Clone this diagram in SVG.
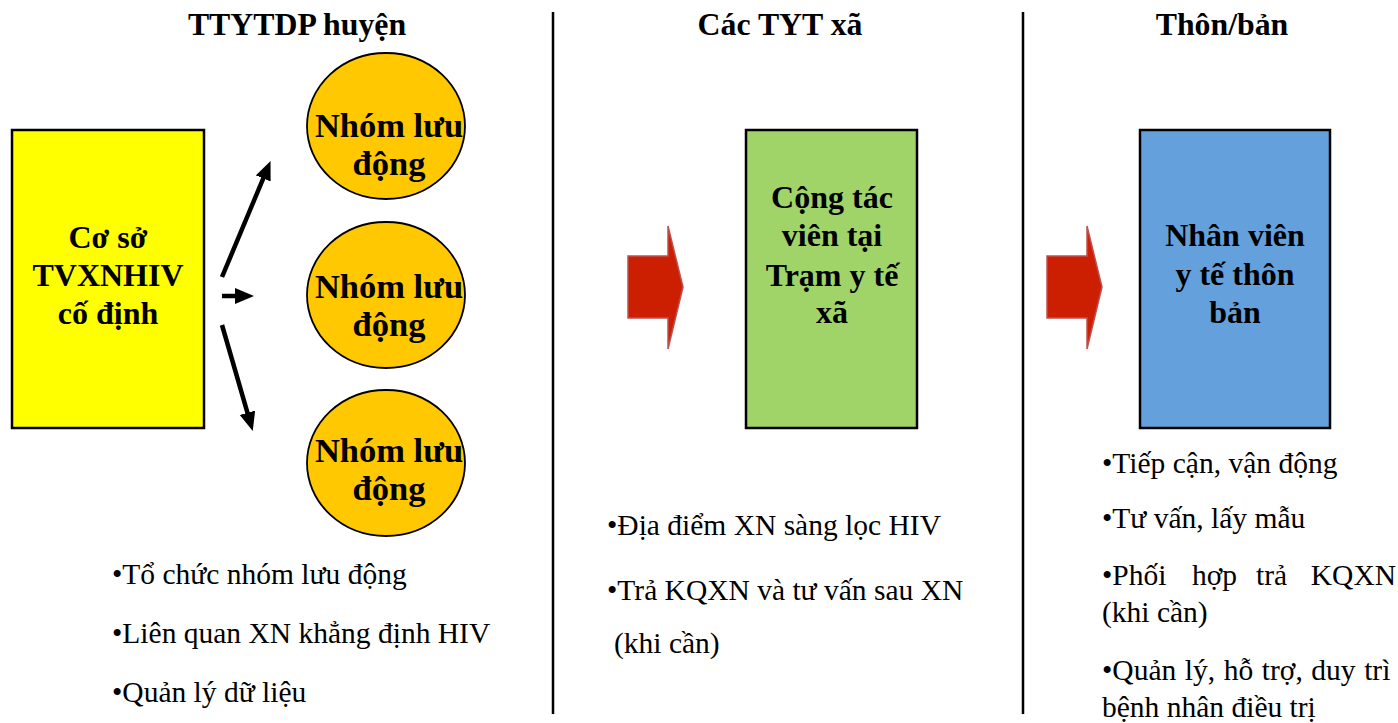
<svg xmlns="http://www.w3.org/2000/svg" width="1398" height="723" viewBox="0 0 1398 723">
<style>
.title{font-family:"Liberation Serif","Times New Roman",serif;font-weight:bold;font-size:31.8px;fill:#000;text-anchor:middle}
.box{font-family:"Liberation Serif","Times New Roman",serif;font-weight:bold;font-size:32px;fill:#000;text-anchor:middle}
.circ{font-family:"Liberation Serif","Times New Roman",serif;font-weight:bold;font-size:34.5px;fill:#000;text-anchor:middle}
.bul{font-family:"Liberation Serif","Times New Roman",serif;font-size:29.5px;fill:#000}
.div{stroke:#000;stroke-width:2.5}
.rect{stroke:#000;stroke-width:2.5}
.ell{fill:#FFC800;stroke:#000;stroke-width:1.8}
.red{fill:#CC1E00;stroke:#C0504D;stroke-width:1.5}
.conn{stroke:#000;stroke-width:4.5;fill:none}
</style>
<defs>
<marker id="ah" markerUnits="userSpaceOnUse" markerWidth="22" markerHeight="18" refX="2" refY="8" orient="auto">
<path d="M0,0 L19,8 L0,16 z" fill="#000"/>
</marker>
</defs>
<rect width="1398" height="723" fill="#fff"/>
<g id="dividers">
<line class="div" x1="553" y1="12" x2="553" y2="714"/>
<line class="div" x1="1023" y1="12" x2="1023" y2="714"/>
</g>
<g id="titles">
<text class="title" x="297" y="35">TTYTDP huyện</text>
<text class="title" x="780" y="35">Các TYT xã</text>
<text class="title" x="1222" y="35">Thôn/bản</text>
</g>
<g id="co-so">
<rect class="rect" x="12" y="130" width="192" height="298" fill="#FFFF00"/>
<text class="box" x="108" y="248">Cơ sở</text>
<text class="box" x="108" y="286">TVXNHIV</text>
<text class="box" x="108" y="324">cố định</text>
</g>
<g id="nhom1">
<ellipse class="ell" cx="386" cy="126" rx="79" ry="73"/>
<text class="circ" x="389" y="137">Nhóm lưu</text>
<text class="circ" x="389" y="175">động</text>
</g>
<g id="nhom2">
<ellipse class="ell" cx="386" cy="295" rx="79" ry="73"/>
<text class="circ" x="389" y="298">Nhóm lưu</text>
<text class="circ" x="389" y="336">động</text>
</g>
<g id="nhom3">
<ellipse class="ell" cx="386" cy="463" rx="79" ry="73"/>
<text class="circ" x="389" y="462">Nhóm lưu</text>
<text class="circ" x="389" y="500">động</text>
</g>
<g id="connectors">
<line class="conn" x1="222" y1="277" x2="264" y2="176.6" marker-end="url(#ah)"/>
<line class="conn" x1="222" y1="296" x2="237" y2="296" marker-end="url(#ah)"/>
<line class="conn" x1="222" y1="325" x2="248" y2="414.7" marker-end="url(#ah)"/>
<polygon class="red" points="628,256 668,256 668,226 683,287 668,349 668,318 628,318"/>
<polygon class="red" points="1047,256 1087,256 1087,226 1102,287 1087,349 1087,318 1047,318"/>
</g>
<g id="tyt-xa">
<rect class="rect" x="746" y="130" width="171" height="298" fill="#A0D468"/>
<text class="box" x="832" y="208">Cộng tác</text>
<text class="box" x="832" y="246">viên tại</text>
<text class="box" x="832" y="286">Trạm y tế</text>
<text class="box" x="832" y="323">xã</text>
</g>
<g id="nhan-vien">
<rect class="rect" x="1140" y="130" width="190" height="298" fill="#64A0DC"/>
<text class="box" x="1235" y="246">Nhân viên</text>
<text class="box" x="1235" y="285">y tế thôn</text>
<text class="box" x="1235" y="323">bản</text>
</g>
<g id="bullets-left">
<text class="bul" x="112" y="584">•Tổ chức nhóm lưu động</text>
<text class="bul" x="112" y="643">•Liên quan XN khẳng định HIV</text>
<text class="bul" x="112" y="702">•Quản lý dữ liệu</text>
</g>
<g id="bullets-mid">
<text class="bul" x="607" y="535">•Địa điểm XN sàng lọc HIV</text>
<text class="bul" x="607" y="600">•Trả KQXN và tư vấn sau XN</text>
<text class="bul" x="614" y="653">(khi cần)</text>
</g>
<g id="bullets-right">
<text class="bul" x="1102" y="473">•Tiếp cận, vận động</text>
<text class="bul" x="1102" y="528">•Tư vấn, lấy mẫu</text>
<text class="bul" y="585"><tspan x="1102">•Phối</tspan><tspan x="1192">hợp</tspan><tspan x="1256">trả</tspan></text>
<text class="bul" x="1396" y="585" text-anchor="end">KQXN</text>
<text class="bul" x="1102" y="622">(khi cần)</text>
<text class="bul" x="1102" y="680" word-spacing="1.2">•Quản lý, hỗ trợ, duy trì</text>
<text class="bul" x="1102" y="717">bệnh nhân điều trị</text>
</g>
</svg>
